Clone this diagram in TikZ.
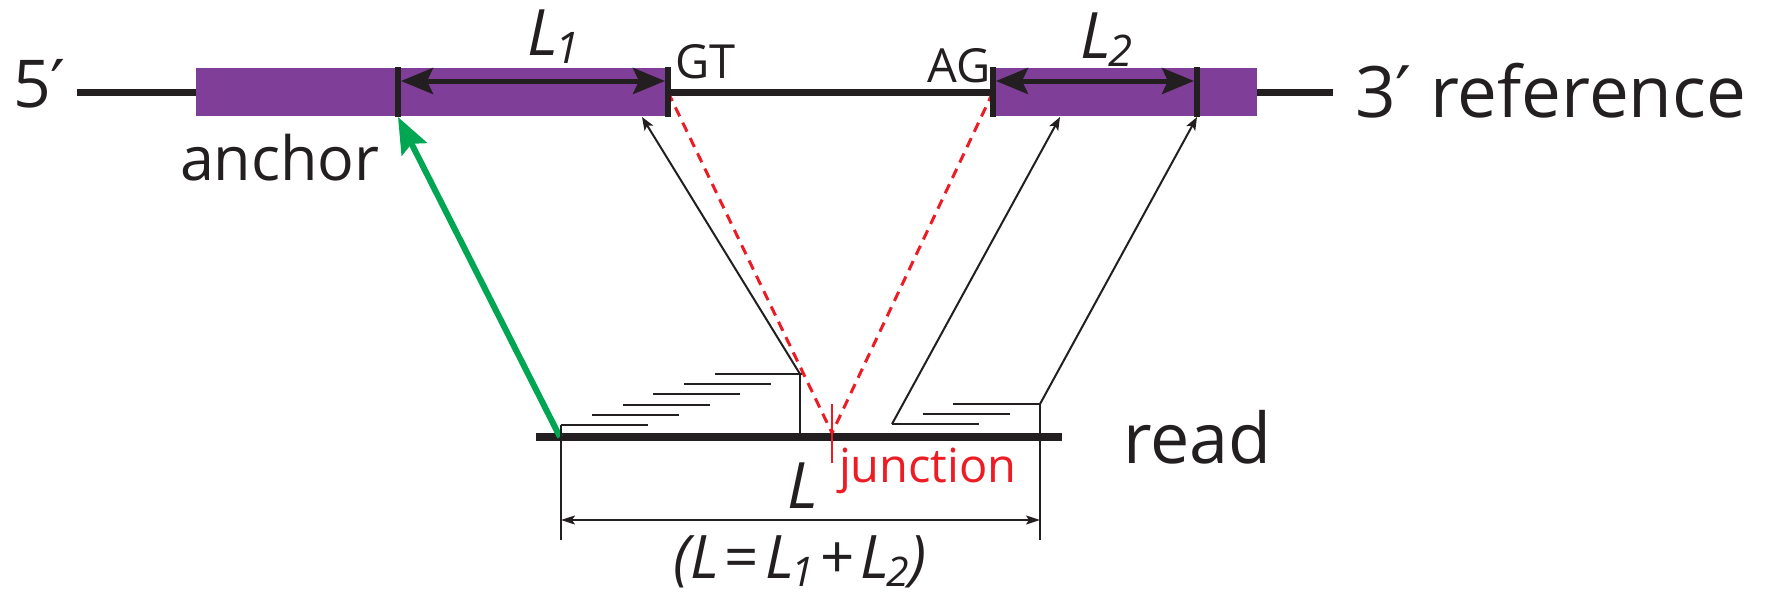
\documentclass[tikz,border=0pt]{standalone}
\usepackage{fontspec}
\setmainfont{Open Sans}
\newfontfamily\primefont{DejaVu Sans}
\usetikzlibrary{
  arrows.meta,
  positioning
}
\definecolor{ink}{HTML}{231F20}
\definecolor{exonpurple}{HTML}{7F3F98}
\definecolor{seedgreen}{HTML}{00A651}
\definecolor{splicered}{HTML}{ED1C24}
\newcommand{\Len}[1]{\textit{L}\kern-0.04em\raisebox{-0.14em}{\scalebox{0.68}{\textit{#1}}}}
\newcommand{\Prm}{{\primefont ′}}
\tikzset{
  strand/.style={
    line width=7pt,
    draw=ink
  },
  readstrand/.style={
    line width=8pt,
    draw=ink
  },
  exon/.style={
    rectangle,
    fill=exonpurple,
    inner sep=0pt,
    outer sep=0pt,
    minimum height=48pt
  },
  tickmark/.style={
    rectangle,
    fill=ink,
    inner sep=0pt,
    outer sep=0pt,
    minimum width=6pt,
    minimum height=50pt
  },
  junctick/.style={
    rectangle,
    fill=splicered,
    inner sep=0pt,
    outer sep=0pt,
    minimum width=2.4pt,
    minimum height=59pt
  },
  span/.style={
    {Stealth[length=32pt,width=26pt,inset=6pt]}-{Stealth[length=32pt,width=26pt,inset=6pt]},
    line width=5pt,
    draw=ink
  },
  seed/.style={
    -{Stealth[length=36pt,width=28pt,inset=6pt]},
    line width=6pt,
    draw=seedgreen
  },
  hit/.style={
    -{Stealth[length=13pt,width=10pt,inset=3pt]},
    line width=2pt,
    draw=ink
  },
  piece/.style={
    line width=2pt,
    draw=ink
  },
  splice/.style={
    line width=3pt,
    draw=splicered,
    dash pattern=on 10pt off 7pt
  },
  dimline/.style={
    {Stealth[length=14pt,width=9pt,inset=3pt]}-{Stealth[length=14pt,width=9pt,inset=3pt]},
    line width=1.8pt,
    draw=ink
  },
  tag/.style={
    inner sep=0pt,
    outer sep=0pt,
    text=ink,
    anchor=base west
  }
}

\begin{document}
\begin{tikzpicture}[x=1pt, y=-1pt]
  \useasboundingbox (0,0) rectangle (1771,597);
  % reference: exons, intron and flanks
  \node[exon, minimum width=472pt] (exon1) at (432,92) {};
  \node[exon, minimum width=264pt] (exon2) at (1125,92) {};
  \coordinate (fivend) at (77,92);
  \coordinate (threend) at (1333,92);
  \draw[strand] (fivend) -- (exon1.west);
  \draw[strand] (exon1.east) -- (exon2.west);
  \draw[strand] (exon2.east) -- (threend);
  % read and its pieces
  \coordinate (readL) at (536,437);
  \coordinate (readR) at (1062,437);
  \coordinate (seedfoot) at (560,437);
  \coordinate (leftfoot) at (561,425);
  \coordinate (lefttop) at (800,374);
  \coordinate (leftbase) at (800,437);
  \coordinate (rightfoot) at (892,424);
  \coordinate (righttop) at (1040,404);
  \coordinate (junc) at (832,433);
  \draw[readstrand] (readL) -- (readR);
  \foreach \i in {0,...,5}
    \draw[piece] ({561+30.8*\i},{425-10.2*\i}) -- ++(87,0);
  \foreach \i in {0,1,2}
    \draw[piece] ({892+30.5*\i},{424-10*\i}) -- ++(87,0);
  \draw[piece] (lefttop) -- (leftbase);
  % splice junction
  \draw[splice] (exon1.east) -- (junc);
  \draw[splice] (exon2.west) -- (junc);
  \node[junctick] (jmark) at (832,433) {};
  % boundaries on the reference
  \node[tickmark] (t1) at (398,92) {};
  \node[tickmark] (t2) at (668,92) {};
  \node[tickmark] (t3) at (993,92) {};
  \node[tickmark] (t4) at (1197,92) {};
  \draw[span] ([yshift=11pt]t1.east) -- ([yshift=11pt]t2.west);
  \draw[span] ([yshift=11pt]t3.east) -- ([yshift=11pt]t4.west);
  % alignments back to the reference
  \coordinate (hitA) at (642,117);
  \coordinate (hitB) at (1060,117);
  \draw[seed] (seedfoot) -- (t1.south);
  \draw[hit] (lefttop) -- (hitA);
  \draw[hit] (rightfoot) -- (hitB);
  \draw[hit] (righttop) -- (t4.south);
  % length of the read
  \coordinate (dimL) at (561,520);
  \coordinate (dimR) at (1040,520);
  \draw[piece] (leftfoot) -- (561,540);
  \draw[piece] (righttop) -- (1040,540);
  \draw[dimline] (dimL) -- (dimR);
  % labels
  \node[tag, font=\fontsize{66}{70}\selectfont] (five) at (13,107) {5\Prm};
  \node[tag, font=\fontsize{71}{80}\selectfont] (three) at (1355,117) {3\Prm\ reference};
  \node[tag, font=\fontsize{61}{70}\selectfont] (anchorlbl) at (180,180) {anchor};
  \node[tag, font=\fontsize{70}{80}\selectfont] (readlbl) at (1123,463) {read};
  \node[tag, font=\fontsize{47}{55}\selectfont] (gt) at (675,78) {GT};
  \node[tag, font=\fontsize{47}{55}\selectfont, anchor=base east] (ag) at (991,82) {AG};
  \node[tag, font=\fontsize{64}{70}\selectfont] (len1) at (527,55) {\Len{1}};
  \node[tag, font=\fontsize{64}{70}\selectfont] (len2) at (1080,58) {\Len{2}};
  \node[tag, font=\fontsize{47}{55}\selectfont, text=splicered] (junclbl) at (839,482) {junction};
  \node[tag, font=\fontsize{64}{70}\selectfont] (lenall) at (787,508) {\textit{L}};
  \node[tag, font=\fontsize{60}{70}\selectfont] (sum) at (673,578)
    {\textit{(L}\kern0.1em=\kern0.1em\Len{1}\kern0.1em+\kern0.1em\Len{2}\textit{)}};
\end{tikzpicture}
\end{document}
